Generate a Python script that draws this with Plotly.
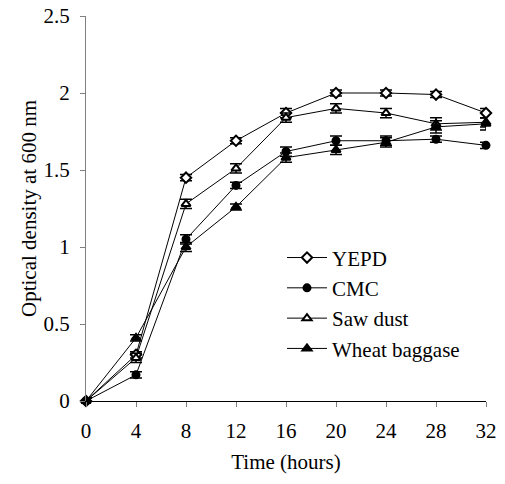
import plotly.graph_objects as go

# Sampling times (hours)
time_h = [0, 4, 8, 12, 16, 20, 24, 28, 32]

# Optical density at 600 nm for each medium
od_yepd = [0.00, 0.30, 1.45, 1.69, 1.87, 2.00, 2.00, 1.99, 1.87]
od_cmc = [0.00, 0.17, 1.05, 1.40, 1.62, 1.69, 1.69, 1.70, 1.66]
od_sawdust = [0.00, 0.28, 1.28, 1.51, 1.84, 1.90, 1.87, 1.80, 1.81]
od_wheat = [0.00, 0.41, 1.00, 1.26, 1.58, 1.63, 1.68, 1.78, 1.80]

# Standard deviations
sd_yepd = [0.02, 0.02, 0.02, 0.02, 0.03, 0.02, 0.02, 0.02, 0.03]
sd_cmc = [0.02, 0.02, 0.03, 0.02, 0.03, 0.03, 0.03, 0.02, 0.02]
sd_sawdust = [0.02, 0.03, 0.03, 0.03, 0.03, 0.03, 0.03, 0.04, 0.03]
sd_wheat = [0.02, 0.02, 0.03, 0.02, 0.03, 0.03, 0.03, 0.04, 0.04]

series_names = ["YEPD", "CMC", "Saw dust", "Wheat baggase"]
x_ticks = [0, 4, 8, 12, 16, 20, 24, 28, 32]
y_ticks = [0, 0.5, 1, 1.5, 2, 2.5]
y_tick_text = ["0", "0.5", "1", "1.5", "2", "2.5"]

FONT = "Liberation Serif, Times New Roman, serif"

styles = [
    dict(symbol="diamond", color="white", size=8),
    dict(symbol="circle", color="black", size=7),
    dict(symbol="triangle-up", color="white", size=8),
    dict(symbol="triangle-up", color="black", size=8),
]

fig = go.Figure()
for name, ys, sd, st in zip(series_names,
                            [od_yepd, od_cmc, od_sawdust, od_wheat],
                            [sd_yepd, sd_cmc, sd_sawdust, sd_wheat],
                            styles):
    fig.add_trace(go.Scatter(
        x=time_h, y=ys, name=name, legendgroup=name,
        mode="lines+markers",
        line=dict(color="black", width=1),
        marker=dict(symbol=st["symbol"], size=st["size"], color=st["color"],
                    line=dict(color="black", width=2)),
        error_y=dict(type="data", array=sd, visible=True,
                     color="black", thickness=1.5, width=6),
        cliponaxis=False,
    ))

fig.update_layout(
    width=505, height=484,
    margin=dict(l=86, r=19, t=16, b=83),
    paper_bgcolor="white", plot_bgcolor="white",
    font=dict(family=FONT, size=21, color="black"),
    showlegend=True,
    legend=dict(x=0.49, y=0.425, xanchor="left", yanchor="top",
                bgcolor="rgba(0,0,0,0)", tracegroupgap=0,
                itemwidth=40,
                font=dict(family=FONT, size=21, color="black")),
    xaxis=dict(range=[0, 32], tickvals=x_ticks, showgrid=False,
               zeroline=False, showline=True, linecolor="black",
               linewidth=1, ticks="outside", ticklen=5,
               tickcolor="#808080", ticklabelstandoff=6, automargin=False,
               title=dict(text="Time (hours)", standoff=12,
                          font=dict(family=FONT, size=21))),
    yaxis=dict(range=[0, 2.5], tickvals=y_ticks, ticktext=y_tick_text,
               showgrid=False, zeroline=False, showline=True,
               linecolor="#808080", linewidth=1, ticks="outside",
               ticklen=5, tickcolor="#808080", ticklabelstandoff=6,
               automargin=False,
               title=dict(text="Optical density at 600 nm", standoff=1,
                          font=dict(family=FONT, size=21))),
)

fig.write_html("out.html")
